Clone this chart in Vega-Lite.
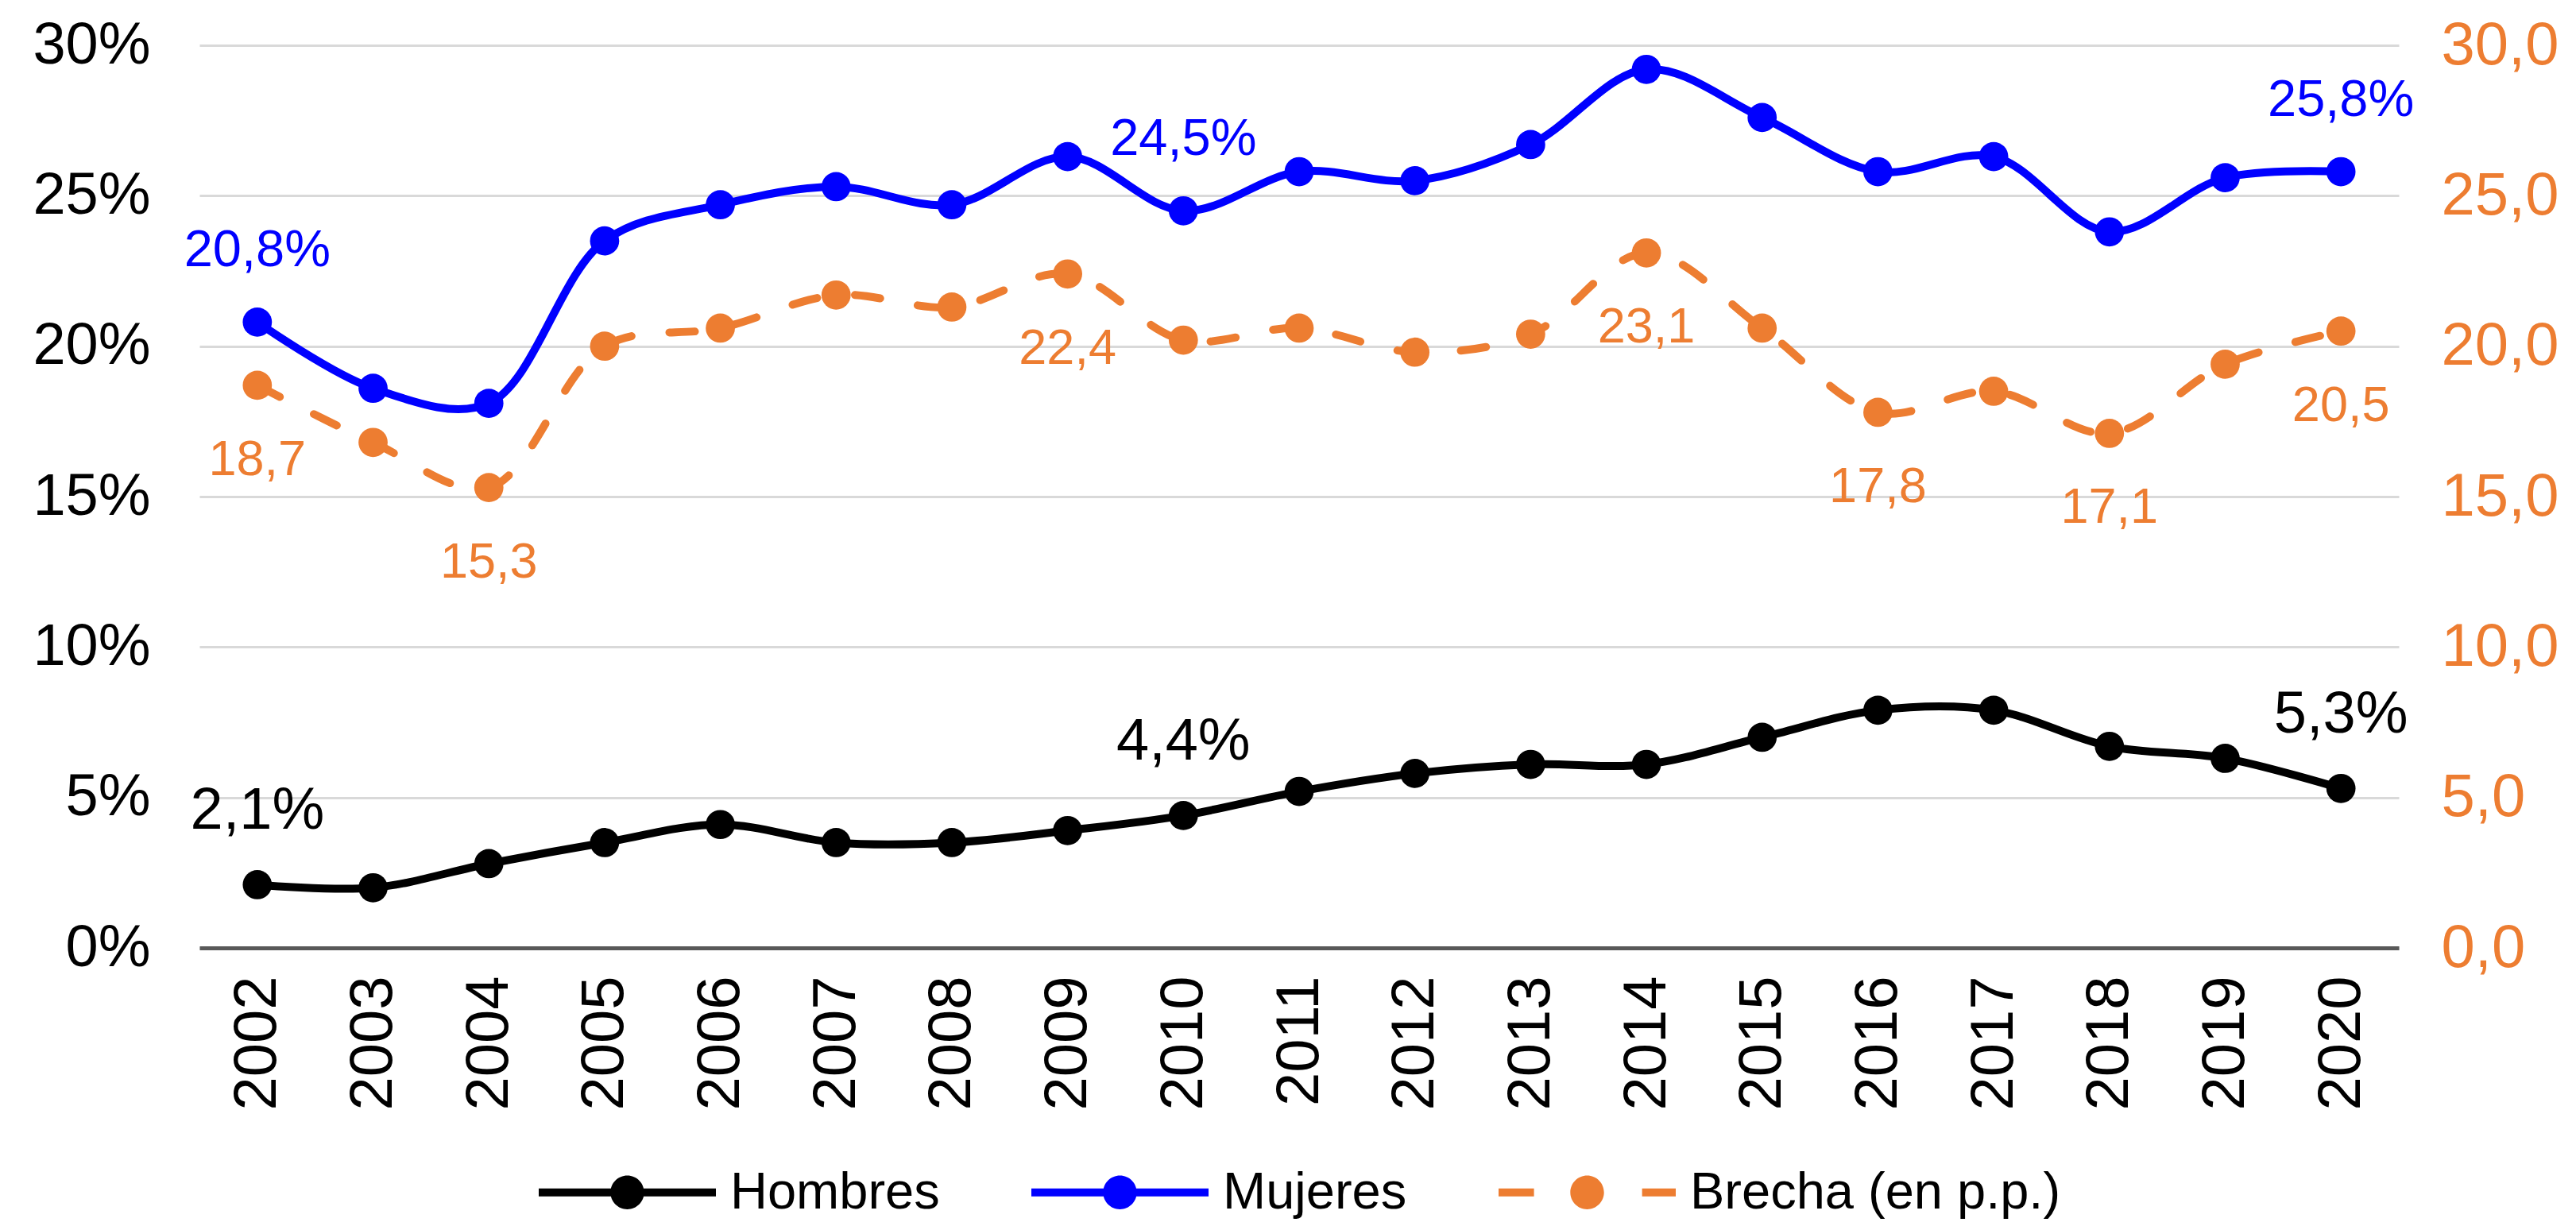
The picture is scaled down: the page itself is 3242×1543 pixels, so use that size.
{
  "$schema": "https://vega.github.io/schema/vega-lite/v6.json",
  "width": 2768,
  "height": 1136,
  "autosize": {"type": "none"},
  "padding": {"left": 251, "top": 57, "right": 223, "bottom": 350},
  "background": "white",
  "config": {
    "font": "Liberation Sans",
    "view": {"stroke": null},
    "locale": {"number": {"decimal": ",", "thousands": ".", "grouping": [3], "currency": ["", " €"]}}
  },
  "data": {
    "values": [
      {"year": "2002", "serie": "Hombres", "value": 2.1, "label": "2,1%"},
      {"year": "2003", "serie": "Hombres", "value": 2.0},
      {"year": "2004", "serie": "Hombres", "value": 2.8},
      {"year": "2005", "serie": "Hombres", "value": 3.5},
      {"year": "2006", "serie": "Hombres", "value": 4.1},
      {"year": "2007", "serie": "Hombres", "value": 3.5},
      {"year": "2008", "serie": "Hombres", "value": 3.5},
      {"year": "2009", "serie": "Hombres", "value": 3.9},
      {"year": "2010", "serie": "Hombres", "value": 4.4, "label": "4,4%"},
      {"year": "2011", "serie": "Hombres", "value": 5.2},
      {"year": "2012", "serie": "Hombres", "value": 5.8},
      {"year": "2013", "serie": "Hombres", "value": 6.1},
      {"year": "2014", "serie": "Hombres", "value": 6.1},
      {"year": "2015", "serie": "Hombres", "value": 7.0},
      {"year": "2016", "serie": "Hombres", "value": 7.9},
      {"year": "2017", "serie": "Hombres", "value": 7.9},
      {"year": "2018", "serie": "Hombres", "value": 6.7},
      {"year": "2019", "serie": "Hombres", "value": 6.3},
      {"year": "2020", "serie": "Hombres", "value": 5.3, "label": "5,3%"},
      {"year": "2002", "serie": "Mujeres", "value": 20.8, "label": "20,8%"},
      {"year": "2003", "serie": "Mujeres", "value": 18.6},
      {"year": "2004", "serie": "Mujeres", "value": 18.1},
      {"year": "2005", "serie": "Mujeres", "value": 23.5},
      {"year": "2006", "serie": "Mujeres", "value": 24.7},
      {"year": "2007", "serie": "Mujeres", "value": 25.3},
      {"year": "2008", "serie": "Mujeres", "value": 24.7},
      {"year": "2009", "serie": "Mujeres", "value": 26.3},
      {"year": "2010", "serie": "Mujeres", "value": 24.5, "label": "24,5%"},
      {"year": "2011", "serie": "Mujeres", "value": 25.8},
      {"year": "2012", "serie": "Mujeres", "value": 25.5},
      {"year": "2013", "serie": "Mujeres", "value": 26.7},
      {"year": "2014", "serie": "Mujeres", "value": 29.2},
      {"year": "2015", "serie": "Mujeres", "value": 27.6},
      {"year": "2016", "serie": "Mujeres", "value": 25.8},
      {"year": "2017", "serie": "Mujeres", "value": 26.3},
      {"year": "2018", "serie": "Mujeres", "value": 23.8},
      {"year": "2019", "serie": "Mujeres", "value": 25.6},
      {"year": "2020", "serie": "Mujeres", "value": 25.8, "label": "25,8%"},
      {"year": "2002", "serie": "Brecha (en p.p.)", "value": 18.7, "label": "18,7"},
      {"year": "2003", "serie": "Brecha (en p.p.)", "value": 16.8},
      {"year": "2004", "serie": "Brecha (en p.p.)", "value": 15.3, "label": "15,3"},
      {"year": "2005", "serie": "Brecha (en p.p.)", "value": 20.0},
      {"year": "2006", "serie": "Brecha (en p.p.)", "value": 20.6},
      {"year": "2007", "serie": "Brecha (en p.p.)", "value": 21.7},
      {"year": "2008", "serie": "Brecha (en p.p.)", "value": 21.3},
      {"year": "2009", "serie": "Brecha (en p.p.)", "value": 22.4, "label": "22,4"},
      {"year": "2010", "serie": "Brecha (en p.p.)", "value": 20.2},
      {"year": "2011", "serie": "Brecha (en p.p.)", "value": 20.6},
      {"year": "2012", "serie": "Brecha (en p.p.)", "value": 19.8},
      {"year": "2013", "serie": "Brecha (en p.p.)", "value": 20.4},
      {"year": "2014", "serie": "Brecha (en p.p.)", "value": 23.1, "label": "23,1"},
      {"year": "2015", "serie": "Brecha (en p.p.)", "value": 20.6},
      {"year": "2016", "serie": "Brecha (en p.p.)", "value": 17.8, "label": "17,8"},
      {"year": "2017", "serie": "Brecha (en p.p.)", "value": 18.5},
      {"year": "2018", "serie": "Brecha (en p.p.)", "value": 17.1, "label": "17,1"},
      {"year": "2019", "serie": "Brecha (en p.p.)", "value": 19.4},
      {"year": "2020", "serie": "Brecha (en p.p.)", "value": 20.5, "label": "20,5"}
    ]
  },
  "encoding": {
    "x": {
      "field": "year", "type": "ordinal",
      "scale": {"type": "point", "padding": 0.5},
      "axis": {
        "title": null, "labelAngle": -90, "labelFontSize": 76, "labelColor": "#000000",
        "labelPadding": 35, "ticks": false, "domain": true, "domainColor": "#595959",
        "domainWidth": 5, "grid": false
      }
    },
    "color": {
      "field": "serie", "type": "nominal",
      "scale": {"domain": ["Hombres", "Mujeres", "Brecha (en p.p.)"], "range": ["#000000", "#0000FF", "#ED7D31"]},
      "legend": {
        "title": null, "orient": "none", "legendX": 427, "legendY": 1332, "direction": "horizontal",
        "columns": 3, "columnPadding": 115, "padding": 0, "labelOffset": 18, "labelLimit": 0,
        "labelFontSize": 65, "labelColor": "#000000", "symbolSize": 49729, "symbolStrokeWidth": 0,
        "encode": {
          "symbols": {
            "update": {
              "shape": {"signal": "datum.value === 'Brecha (en p.p.)' ? 'M-1,-0.045L-0.6,-0.045L-0.6,0.045L-1,0.045Z M0.62,-0.045L1,-0.045L1,0.045L0.62,0.045Z M0.19,0A0.19,0.19,0,1,1,-0.19,0A0.19,0.19,0,1,1,0.19,0Z' : 'M-1,-0.045L1,-0.045L1,0.045L-1,0.045Z M0.19,0A0.19,0.19,0,1,1,-0.19,0A0.19,0.19,0,1,1,0.19,0Z'"},
              "fill": {"signal": "scale('color', datum.value)"},
              "strokeWidth": {"value": 0},
              "opacity": {"value": 1}
            }
          }
        }
      }
    }
  },
  "layer": [
    {
      "transform": [{"filter": "datum.serie !== 'Brecha (en p.p.)'"}],
      "encoding": {
        "y": {
          "field": "value", "type": "quantitative",
          "scale": {"domain": [0, 30], "nice": false},
          "axis": {
            "title": null, "values": [0, 5, 10, 15, 20, 25, 30], "labelExpr": "datum.value + '%'",
            "labelFontSize": 74, "labelColor": "#000000", "labelPadding": 62, "ticks": false,
            "domain": false, "grid": true, "gridColor": "#D9D9D9", "gridWidth": 3
          }
        }
      },
      "layer": [
        {"mark": {"type": "line", "interpolate": "catmull-rom", "strokeWidth": 10}},
        {"mark": {"type": "point", "filled": true, "opacity": 1, "size": 1350}},
        {
          "transform": [{"filter": "datum.serie === 'Hombres' && isValid(datum.label)"}],
          "mark": {"type": "text", "fontSize": 74, "dy": -92, "baseline": "middle", "align": "center"},
          "encoding": {"text": {"field": "label"}}
        },
        {
          "transform": [{"filter": "datum.serie === 'Mujeres' && isValid(datum.label)"}],
          "mark": {"type": "text", "fontSize": 65, "dy": -90, "baseline": "middle", "align": "center"},
          "encoding": {"text": {"field": "label"}}
        }
      ]
    },
    {
      "transform": [{"filter": "datum.serie === 'Brecha (en p.p.)'"}],
      "encoding": {
        "y": {
          "field": "value", "type": "quantitative",
          "scale": {"domain": [0, 30], "nice": false},
          "axis": {
            "title": null, "orient": "right", "values": [0, 5, 10, 15, 20, 25, 30], "format": ".1f",
            "labelFontSize": 76, "labelColor": "#ED7D31", "labelPadding": 53, "ticks": false,
            "domain": false, "grid": false
          }
        }
      },
      "layer": [
        {"mark": {"type": "line", "interpolate": "catmull-rom", "strokeWidth": 10, "strokeCap": "round", "strokeDash": [32, 48]}},
        {"mark": {"type": "point", "filled": true, "opacity": 1, "size": 1350}},
        {
          "transform": [{"filter": "isValid(datum.label)"}],
          "mark": {"type": "text", "fontSize": 63, "dy": 94, "baseline": "middle", "align": "center"},
          "encoding": {"text": {"field": "label"}}
        }
      ]
    }
  ],
  "resolve": {"scale": {"y": "independent"}}
}
